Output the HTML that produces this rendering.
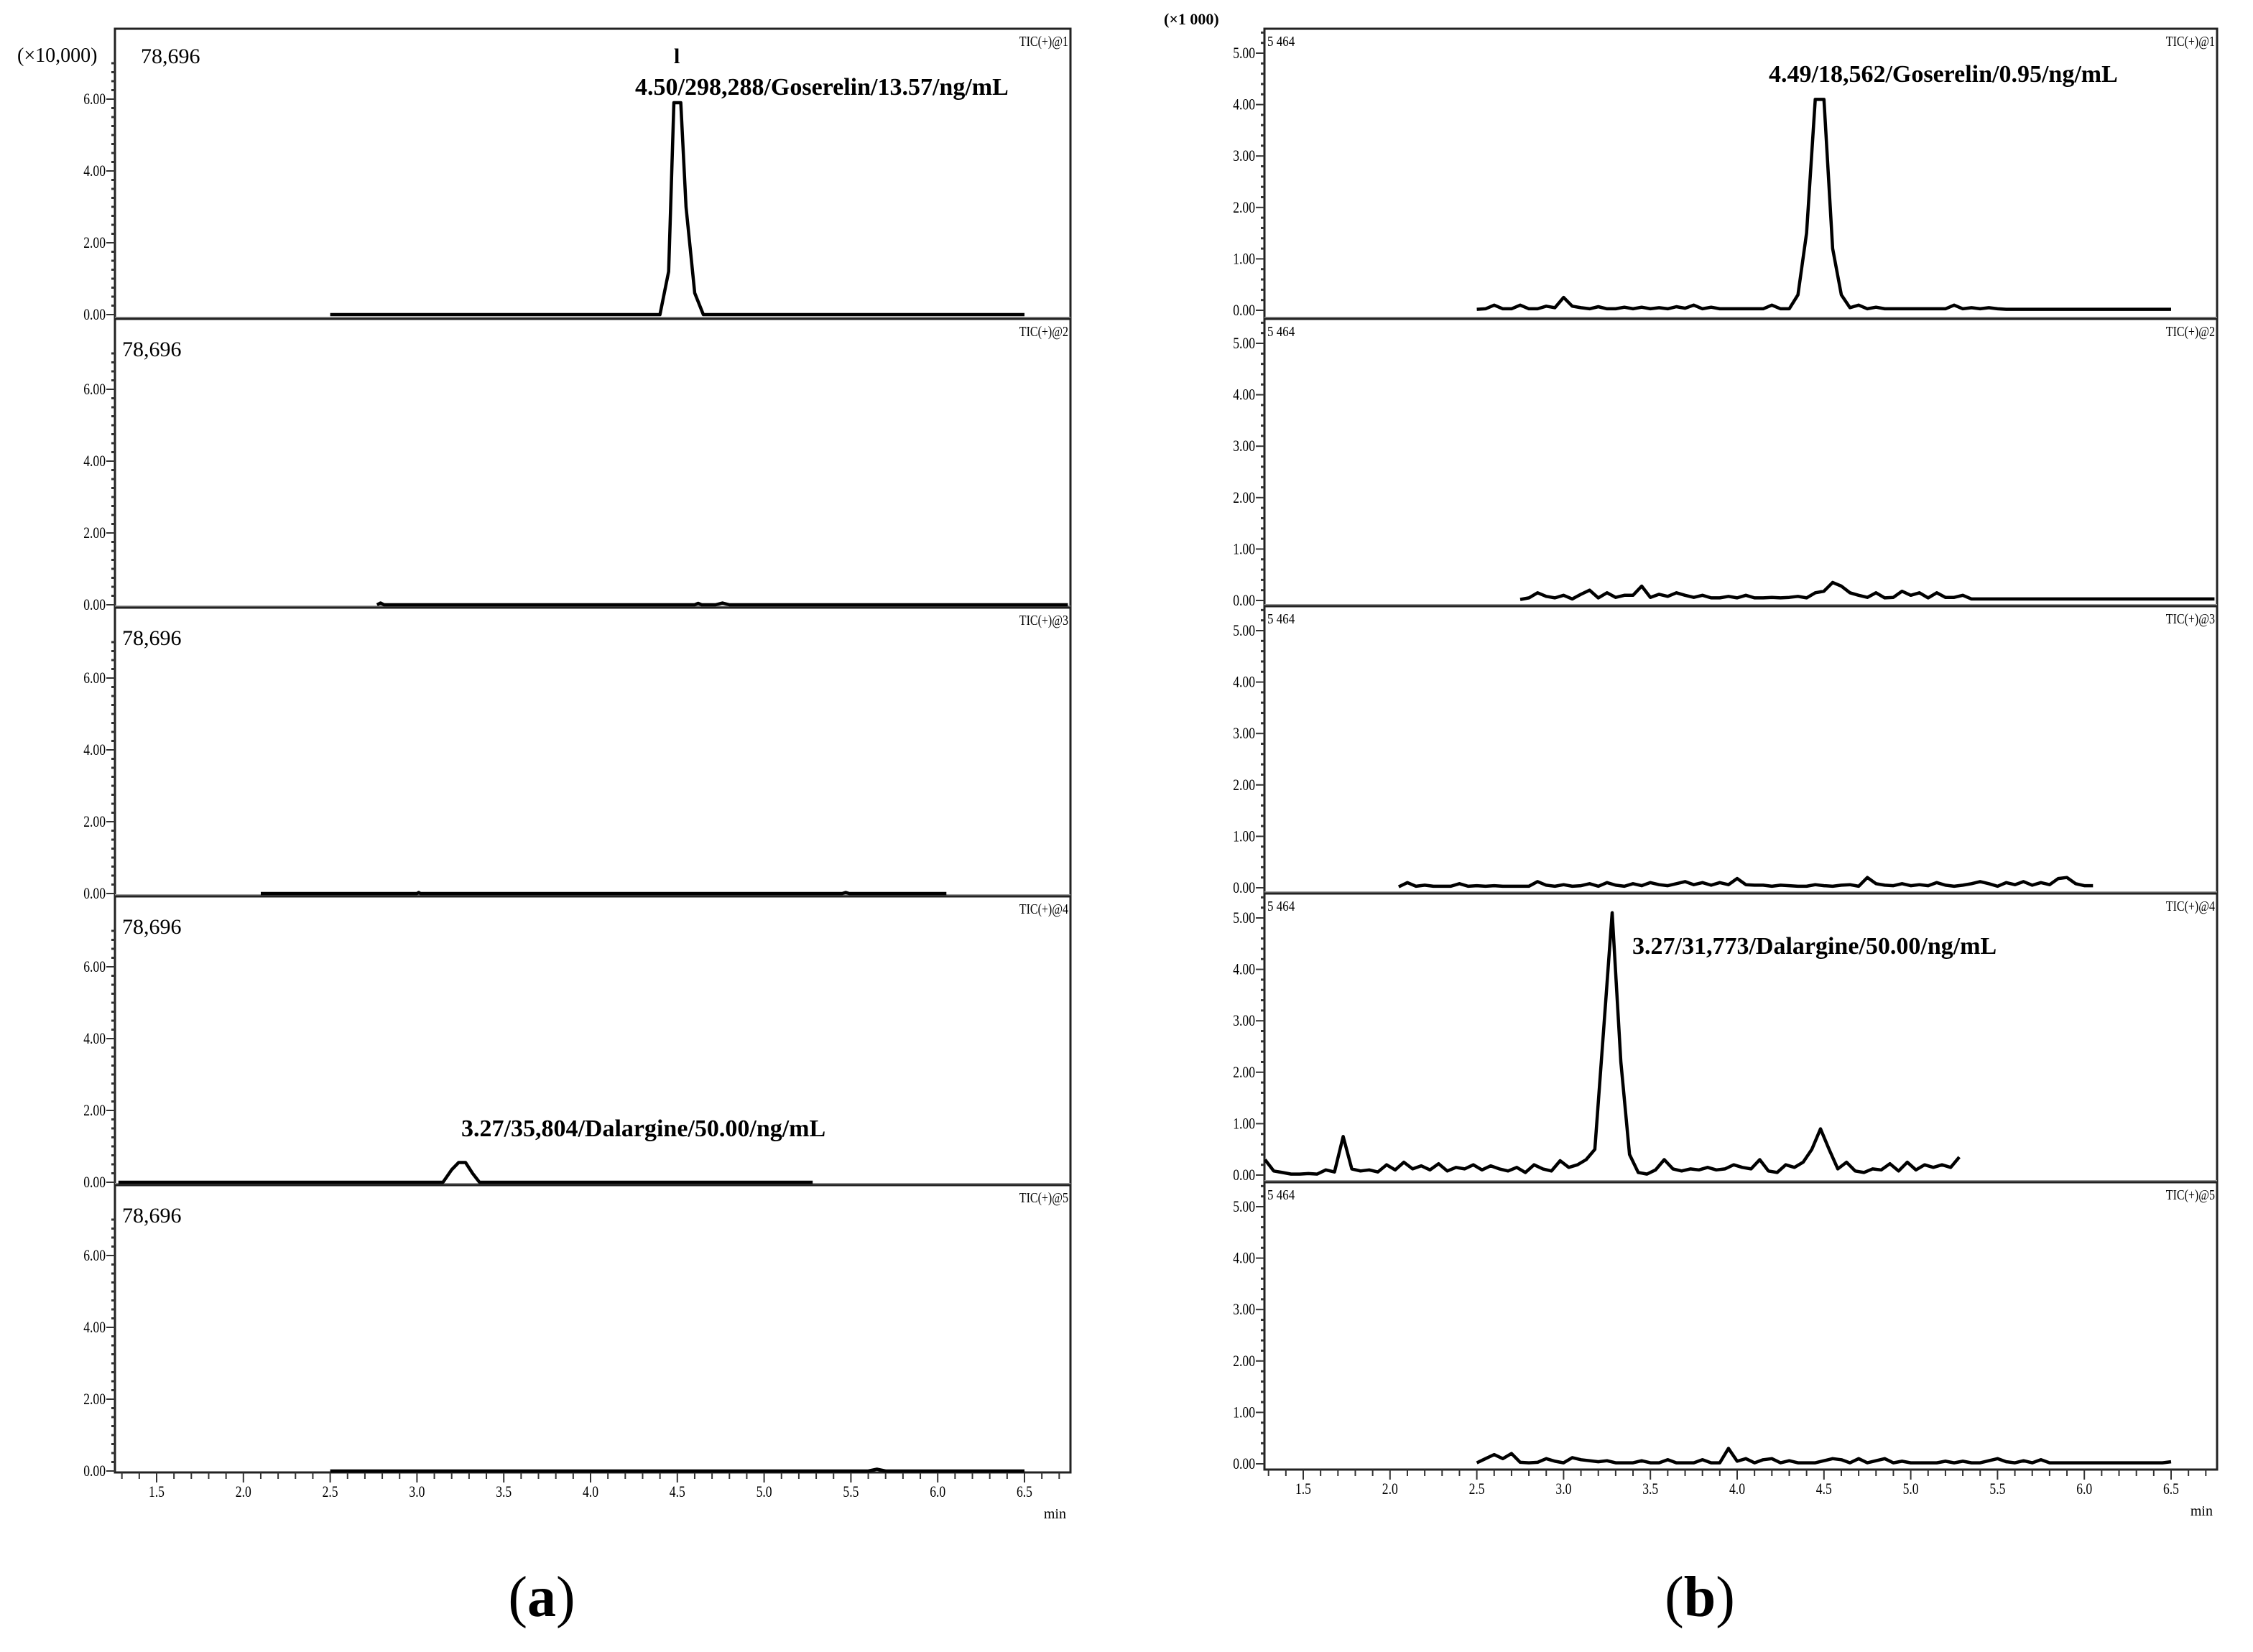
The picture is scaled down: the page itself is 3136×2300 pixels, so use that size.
<!DOCTYPE html>
<html><head><meta charset="utf-8"><style>
html,body{margin:0;padding:0;background:#fff}
svg{display:block}
text{font-family:"Liberation Serif",serif;fill:#000}
</style></head><body>
<svg id="fig" width="3136" height="2300" viewBox="0 0 3136 2300"></svg>
<script>
// ---- data ----
const xTickLabels=["1.5","2.0","2.5","3.0","3.5","4.0","4.5","5.0","5.5","6.0","6.5"];
const aYTickLabels=["0.00","2.00","4.00","6.00"];
const bYTickLabels=["0.00","1.00","2.00","3.00","4.00","5.00"];
const aPanelNames=["TIC(+)@1","TIC(+)@2","TIC(+)@3","TIC(+)@4","TIC(+)@5"];
// panel (a) traces as time/value pairs (x10,000)
const a1T=[2.5,4.40,4.45,4.48,4.52,4.55,4.60,4.65,6.5];
const a1V=[0,0,1.2,5.9,5.9,3.0,0.6,0,0];
const a2T=[2.77,2.79,2.81,4.6,4.62,4.64,4.72,4.76,4.8,6.75];
const a2V=[0,0.05,0,0,0.04,0,0,0.05,0,0];
const a3T=[2.1,3.0,3.01,3.02,4.4,5.45,5.47,5.49,6.05];
const a3V=[0,0,0.03,0,0,0,0.03,0,0];
const a4T=[1.28,3.15,3.2,3.24,3.28,3.32,3.36,5.28];
const a4V=[0,0,0.35,0.55,0.55,0.25,0,0];
const a5T=[2.5,5.6,5.65,5.7,6.5];
const a5V=[0,0,0.05,0,0];
// panel (b) traces sampled every 0.05 min (x1000)
const b1Start=2.5;
const b1V=[0.02,0.03,0.1,0.03,0.03,0.1,0.03,0.03,0.08,0.05,
0.25,0.08,0.05,0.03,0.07,0.03,0.03,0.06,0.03,0.06,
0.03,0.05,0.03,0.07,0.04,0.1,0.03,0.06,0.03,0.03,
0.03,0.03,0.03,0.03,0.1,0.03,0.03,0.3,1.5,4.1,
4.1,1.2,0.3,0.05,0.1,0.03,0.06,0.03,0.03,0.03,
0.03,0.03,0.03,0.03,0.03,0.1,0.03,0.05,0.03,0.05,
0.03,0.02,0.02,0.02,0.02,0.02,0.02,0.02,0.02,0.02,
0.02,0.02,0.02,0.02,0.02,0.02,0.02,0.02,0.02,0.02,0.02];
const b2Start=2.75;
const b2V=[0.02,0.05,0.15,0.08,0.05,0.1,0.03,0.12,0.2,0.05,
0.15,0.06,0.1,0.1,0.28,0.06,0.12,0.08,0.15,0.1,
0.06,0.1,0.05,0.05,0.08,0.05,0.1,0.05,0.05,0.06,
0.05,0.06,0.08,0.05,0.15,0.18,0.35,0.28,0.15,0.1,
0.06,0.15,0.05,0.06,0.18,0.1,0.15,0.05,0.15,0.06,
0.06,0.1,0.03,0.03,0.03,0.03,0.03,0.03,0.03,0.03,
0.03,0.03,0.03,0.03,0.03,0.03,0.03,0.03,0.03,0.03,
0.03,0.03,0.03,0.03,0.03,0.03,0.03,0.03,0.03,0.03,0.03];
const b3Start=2.05;
const b3V=[0.02,0.1,0.03,0.05,0.03,0.03,0.03,0.08,0.03,0.04,
0.03,0.04,0.03,0.03,0.03,0.03,0.12,0.05,0.03,0.06,
0.03,0.04,0.08,0.03,0.1,0.05,0.03,0.08,0.04,0.1,
0.06,0.04,0.08,0.12,0.06,0.1,0.05,0.1,0.06,0.18,
0.06,0.05,0.05,0.03,0.05,0.04,0.03,0.03,0.06,0.04,
0.03,0.05,0.06,0.03,0.2,0.08,0.05,0.04,0.08,0.04,
0.06,0.04,0.1,0.05,0.03,0.05,0.08,0.12,0.08,0.03,
0.1,0.06,0.12,0.05,0.1,0.06,0.18,0.2,0.08,0.04,0.04];
const b4Start=1.28;
const b4V=[0.3,0.08,0.05,0.02,0.02,0.03,0.02,0.1,0.06,0.75,
0.12,0.08,0.1,0.06,0.2,0.1,0.25,0.12,0.18,0.1,
0.22,0.08,0.15,0.12,0.2,0.1,0.18,0.12,0.08,0.15,
0.05,0.2,0.12,0.08,0.28,0.15,0.2,0.3,0.5,2.8,
5.1,2.2,0.4,0.05,0.02,0.1,0.3,0.12,0.08,0.12,
0.1,0.15,0.1,0.12,0.2,0.15,0.12,0.3,0.08,0.05,
0.2,0.15,0.25,0.5,0.9,0.5,0.12,0.25,0.08,0.05,
0.12,0.1,0.22,0.08,0.25,0.1,0.2,0.15,0.2,0.15,0.35];
const b5Start=2.5;
const b5V=[0.02,0.1,0.18,0.1,0.2,0.03,0.02,0.03,0.1,0.05,
0.02,0.12,0.08,0.06,0.04,0.06,0.02,0.02,0.02,0.06,
0.02,0.02,0.08,0.02,0.02,0.02,0.08,0.02,0.02,0.3,
0.05,0.1,0.02,0.08,0.1,0.02,0.06,0.02,0.02,0.02,
0.06,0.1,0.08,0.02,0.1,0.02,0.06,0.1,0.02,0.05,
0.02,0.02,0.02,0.02,0.05,0.02,0.05,0.02,0.02,0.06,
0.1,0.04,0.02,0.06,0.02,0.08,0.02,0.02,0.02,0.02,
0.02,0.02,0.02,0.02,0.02,0.02,0.02,0.02,0.02,0.02,0.04];

const NS="http://www.w3.org/2000/svg";
const svg=document.getElementById('fig');
function el(tag,attrs,parent){const e=document.createElementNS(NS,tag);for(const k in attrs)e.setAttribute(k,attrs[k]);(parent||svg).appendChild(e);return e;}
function txt(s,x,y,size,opts,parent){const t=el('text',Object.assign({x:x,y:y,'font-size':size},opts||{}),parent);t.textContent=s;return t;}

const A={left:160,right:1490,tops:[40,444,846,1248,1650],bottom:2050,base:398,pxU:50,x0:218,yMax:7.2,major:2,minor:0.25,yLabels:aYTickLabels,corner:"78,696"};
const B={left:1760,right:3086,tops:[40,444,844,1244,1646],bottom:2046,base:392,pxU:71.6,x0:1814,yMax:5.4,major:1,minor:0.2,yLabels:bYTickLabels,corner:"5 464"};
const pxMin=241.6;
function xs(C,t){return C.x0+(t-1.5)*pxMin;}
function ys(C,i,v){return C.tops[i]+C.base-v*C.pxU;}

function drawFrame(C,prefix){
  const g=el('g',{});
  
  
  el('rect',{x:C.left,y:C.tops[0],width:C.right-C.left,height:C.bottom-C.tops[0],fill:'none',stroke:'#222','stroke-width':3},g);
  for(let i=1;i<5;i++){
    el('line',{x1:C.left,x2:C.right,y1:C.tops[i]-2,y2:C.tops[i]-2,stroke:'#999','stroke-width':2},g);
    el('line',{x1:C.left,x2:C.right,y1:C.tops[i],y2:C.tops[i],stroke:'#222','stroke-width':3},g);
  }
  for(let i=0;i<5;i++){
    const ag=el('g',{},g);
    
    
    const bot=(i<4?C.tops[i+1]:C.bottom);
    for(let v=0;v<=C.yMax+1e-6;v+=C.minor){
      const y=ys(C,i,v); if(y<C.tops[i]+4||y>bot) continue;
      const isMaj=Math.abs(v/C.major-Math.round(v/C.major))<1e-6;
      el('line',{x1:C.left-(isMaj?12:5),x2:C.left,y1:y,y2:y,stroke:'#333','stroke-width':isMaj?2:3},ag);
    }
    C.yLabels.forEach((lab)=>{
      const v=parseFloat(lab); const y=ys(C,i,v);
      const t=txt(lab,C.left-13,y+7,22,{'text-anchor':'end','transform':`translate(${C.left-13},0) scale(0.8,1) translate(${-(C.left-13)},0)`},ag);
      
      
    });
    const c=txt(C.corner,C===A?(i==0?196:170):C.left+4,C.tops[i]+(C===A?(i==0?48:52):24),C===A?30:20,{'transform':C===B?`translate(${C.left+4},0) scale(0.85,1) translate(${-(C.left+4)},0)`:''},ag);
    
    
    const tic=txt(aPanelNames[i],C.right-3,C.tops[i]+24,20,{'text-anchor':'end','transform':`translate(${C.right-3},0) scale(0.8,1) translate(${-(C.right-3)},0)`},ag);
    
    
  }
  const xg=el('g',{},g);
  
  
  for(let k=-2;k<=55;k++){
    const t=1.5+k*0.1; const x=xs(C,t); if(x<C.left+3||x>C.right-3) continue;
    const maj=(k%5===0);
    el('line',{x1:x,x2:x,y1:C.bottom,y2:C.bottom+(maj?14:9),stroke:'#333','stroke-width':2},xg);
  }
  xTickLabels.forEach(l=>{
    const x=xs(C,parseFloat(l));
    const t=txt(l,x,C.bottom+34,22,{'text-anchor':'middle','transform':`translate(${x},0) scale(0.8,1) translate(${-x},0)`},xg);
    
    
  });
  const mn=txt('min',C.right-6,C.bottom+64,20,{'text-anchor':'end'},xg);
  
  
}
drawFrame(A,'panel-a');
drawFrame(B,'panel-b');

function clipV(C,i,v){const top=C.tops[i]+6;const y=ys(C,i,v);return Math.max(y,top);}
function drawPairs(C,i,T,V,name){
  const pts=T.map((t,k)=>xs(C,t).toFixed(1)+','+clipV(C,i,V[k]).toFixed(1)).join(' ');
  const p=el('polyline',{points:pts,fill:'none',stroke:'#000','stroke-width':4.5,'stroke-linejoin':'round'});
  
  
}
function drawSeq(C,i,start,V,name){
  const pts=V.map((v,k)=>xs(C,start+k*0.05).toFixed(1)+','+clipV(C,i,v).toFixed(1)).join(' ');
  const p=el('polyline',{points:pts,fill:'none',stroke:'#000','stroke-width':4.5,'stroke-linejoin':'round'});
  
  
}
drawPairs(A,0,a1T,a1V,'trace-a1');
drawPairs(A,1,a2T,a2V,'trace-a2');
drawPairs(A,2,a3T,a3V,'trace-a3');
drawPairs(A,3,a4T,a4V,'trace-a4');
drawPairs(A,4,a5T,a5V,'trace-a5');
drawSeq(B,0,b1Start,b1V,'trace-b1');
drawSeq(B,1,b2Start,b2V,'trace-b2');
drawSeq(B,2,b3Start,b3V,'trace-b3');
drawSeq(B,3,b4Start,b4V,'trace-b4');
drawSeq(B,4,b5Start,b5V,'trace-b5');

function ann(s,x,y,name){const t=txt(s,x,y,34,{'font-weight':'bold'});}
ann('4.50/298,288/Goserelin/13.57/ng/mL',884,132,'peak-annotation-a1');
ann('3.27/35,804/Dalargine/50.00/ng/mL',642,1582,'peak-annotation-a4');
ann('4.49/18,562/Goserelin/0.95/ng/mL',2462,114,'peak-annotation-b1');
ann('3.27/31,773/Dalargine/50.00/ng/mL',2272,1328,'peak-annotation-b4');
const pk=txt('l',938,88,30,{'font-weight':'bold'});


const sa=txt('(×10,000)',24,86,28,{});


const sb=txt('(×1 000)',1620,34,22,{'font-weight':'bold'});


const ca=txt('(',754,2250,80,{'text-anchor':'middle'});
ca.textContent='';
const t1=el('tspan',{},ca);t1.textContent='(';
const t2=el('tspan',{'font-weight':'bold'},ca);t2.textContent='a';
const t3=el('tspan',{},ca);t3.textContent=')';


const cb=txt('',2366,2250,80,{'text-anchor':'middle'});
const u1=el('tspan',{},cb);u1.textContent='(';
const u2=el('tspan',{'font-weight':'bold'},cb);u2.textContent='b';
const u3=el('tspan',{},cb);u3.textContent=')';


</script>
</body></html>
